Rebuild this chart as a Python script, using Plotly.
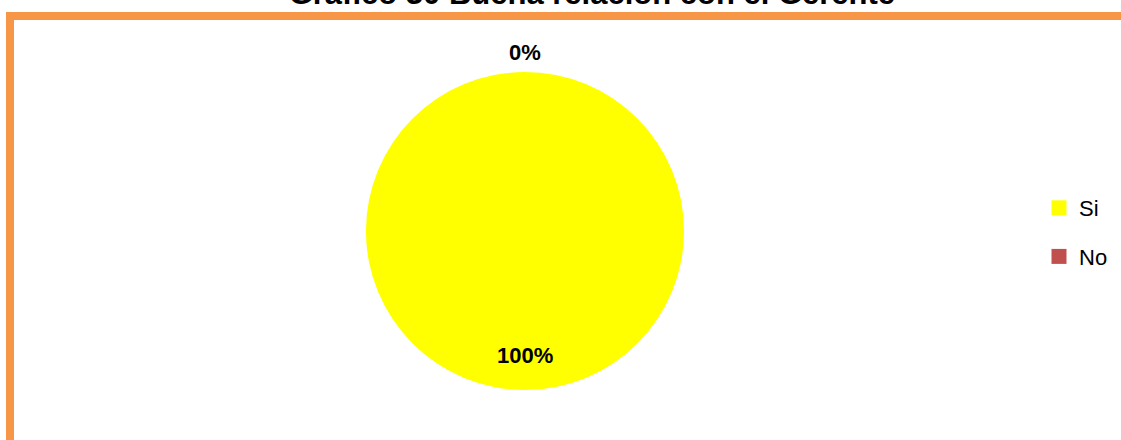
import math
import plotly.graph_objects as go

# ---- data ----
categories = ["Si", "No"]
values = [100, 0]
colors = ["#FFFF00", "#C0504D"]
title_text = "Gráfico 30 Buena relación con el Gerente"

W, H = 1121, 440
total = sum(values)
pcts = [v / total * 100 for v in values]

# pie geometry (pixels)
cx, cy, r = 525, 231, 159

fig = go.Figure()
fig.add_trace(go.Pie(
    labels=categories, values=values, sort=False, direction="clockwise", rotation=0,
    marker=dict(colors=colors, line=dict(width=0)),
    textinfo="none", showlegend=False, hoverinfo="label+percent",
    domain=dict(x=[(cx - r) / W, (cx + r) / W], y=[1 - (cy + r) / H, 1 - (cy - r) / H]),
))

# legend entries
for cat, col in zip(categories, colors):
    fig.add_trace(go.Scatter(
        x=[None], y=[None], mode="markers", name=cat, legendgroup=cat,
        marker=dict(symbol="square", size=15, color=col, line=dict(width=0)),
    ))

# percentage labels at slice mid-angles (start at top, clockwise)
start = 0.0
for v, p in zip(values, pcts):
    span = v / total * 360
    mid = start + span / 2
    frac = 0.78 if v > 0 else 1.125
    ang = math.radians(mid)
    px = cx + frac * r * math.sin(ang)
    py = cy - frac * r * math.cos(ang)
    fig.add_annotation(
        x=px / W, y=1 - py / H, xref="paper", yref="paper", showarrow=False,
        text=f"{p:.0f}%", font=dict(family="Liberation Sans, Arial", size=22, color="black", weight="bold"),
        xanchor="center", yanchor="middle",
    )
    start += span

fig.update_layout(
    width=W, height=H, margin=dict(l=0, r=0, t=0, b=0),
    paper_bgcolor="white", plot_bgcolor="white",
    title=dict(text=title_text, x=0.528, xanchor="center", y=1 - 4 / H, yanchor="bottom",
               yref="container",
               font=dict(family="Liberation Sans, Arial", size=31, color="black", weight="bold")),
    xaxis=dict(visible=False), yaxis=dict(visible=False),
    legend=dict(x=1039 / W, xanchor="left", y=1 - 187 / H, yanchor="top",
                font=dict(family="Liberation Sans, Arial", size=22, color="black"),
                tracegroupgap=17, bgcolor="rgba(0,0,0,0)", borderwidth=0),
    shapes=[dict(type="rect", xref="paper", yref="paper",
                 x0=10 / W, x1=1.2, y0=-0.2, y1=1 - 16 / H,
                 line=dict(color="#F79646", width=8), fillcolor="rgba(0,0,0,0)", layer="above")],
)

fig.write_html("out.html", config={"displayModeBar": False},
               post_script="document.body.style.margin='0';")
